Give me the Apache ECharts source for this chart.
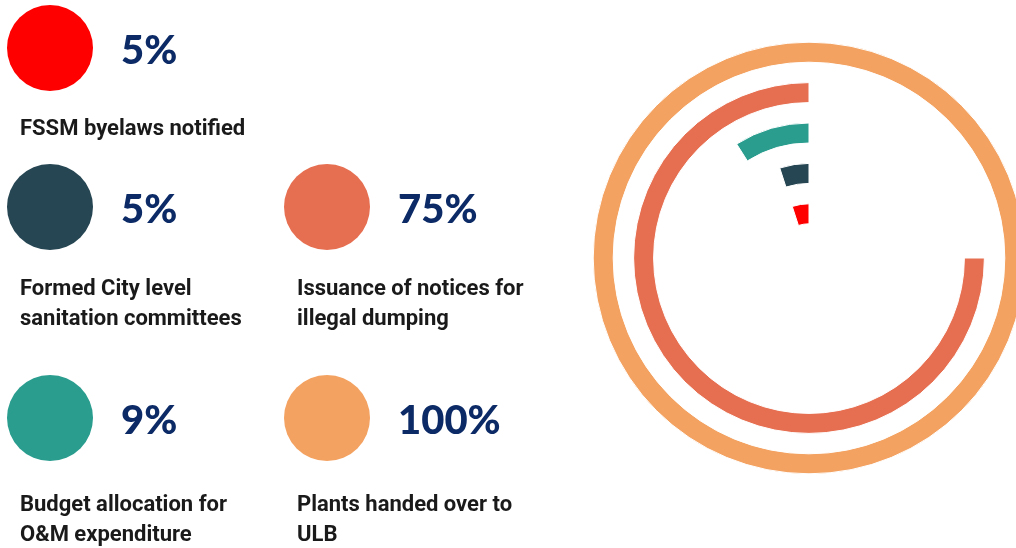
<!DOCTYPE html>
<html>
<head>
<meta charset="utf-8">
<script src="https://cdn.jsdelivr.net/npm/echarts@6/dist/echarts.min.js"></script>
<style>
html,body{margin:0;padding:0;background:#fff;}
#chart{width:1016px;height:548px;}
</style>
</head>
<body>
<div id="chart"></div>
<script>
// Categories ordered from the innermost ring to the outermost ring
const categories = [
  'FSSM byelaws notified',
  'Formed City level\nsanitation committees',
  'Budget allocation for\nO&M expenditure',
  'Issuance of notices for\nillegal dumping',
  'Plants handed over to\nULB'
];
const values = [5, 5, 9, 75, 100];
const colors = ['#ff0000', '#264653', '#2a9d8f', '#e76f51', '#f4a261'];

// Layout of the left-hand key (column, row) for each category
const slots = [[0, 0], [0, 1], [0, 2], [1, 1], [1, 2]];
const colX = [50, 327];
const rowY = [48, 207, 418];
const labelRowY = [129, 289, 505];

const graphics = [];
categories.forEach(function (name, i) {
  const c = slots[i][0], r = slots[i][1];
  const cx = colX[c], cy = rowY[r];
  graphics.push({
    type: 'circle',
    shape: { cx: cx, cy: cy, r: 43 },
    style: { fill: colors[i] }
  });
  graphics.push({
    type: 'text',
    style: {
      text: values[i] + '%',
      x: cx + 71, y: cy + 3,
      fill: '#0b2a66',
      font: '900 40px Lato',
      align: 'left', verticalAlign: 'middle',
      textAlign: 'left', textVerticalAlign: 'middle'
    }
  });
  graphics.push({
    type: 'text',
    style: {
      text: name,
      x: cx - 30, y: labelRowY[r] - 15,
      fill: '#1a1a1a',
      font: 'bold 22px Roboto',
      lineHeight: 30,
      align: 'left', verticalAlign: 'top',
      textAlign: 'left', textVerticalAlign: 'top'
    }
  });
});

const chart = echarts.init(document.getElementById('chart'));
chart.setOption({
  animation: false,
  polar: { center: [809, 258], radius: [24, 226] },
  angleAxis: {
    min: 0, max: 100, startAngle: 90, clockwise: false,
    show: false
  },
  radiusAxis: {
    type: 'category',
    data: categories,
    show: false
  },
  series: [{
    type: 'bar',
    coordinateSystem: 'polar',
    barWidth: 20,
    data: values.map(function (v, i) {
      return { value: v, itemStyle: { color: colors[i], borderColor: '#ffffff', borderWidth: 1 } };
    })
  }],
  graphic: graphics
});
</script>
</body>
</html>
